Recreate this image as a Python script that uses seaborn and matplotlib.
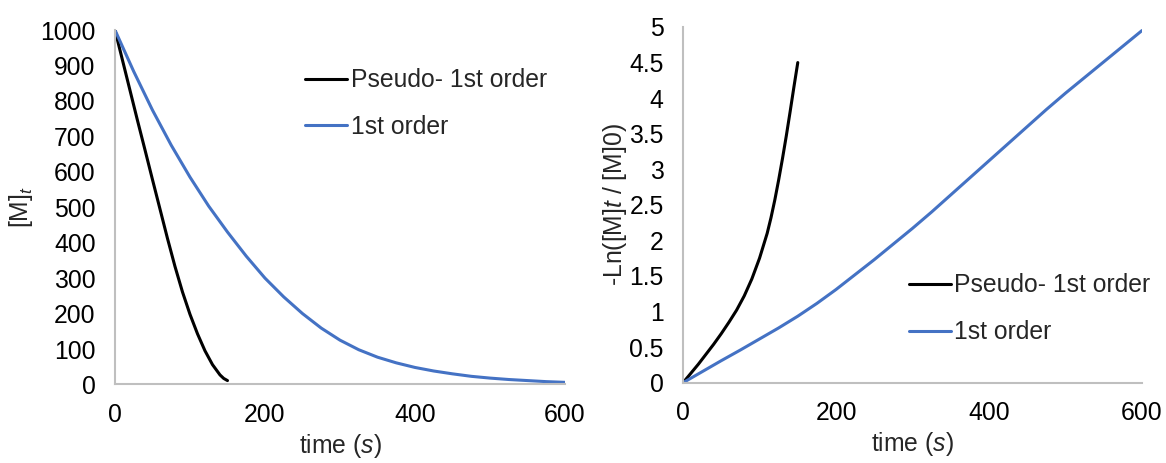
import numpy as np
import pandas as pd
import matplotlib
matplotlib.use("Agg")
import matplotlib.pyplot as plt
import seaborn as sns

# Concentration decay, [M]t
pseudo_t = [0, 10, 20, 30, 40, 50, 60, 70, 80, 90, 100, 110, 120, 130, 140, 145, 150]
pseudo_M = [1000, 915, 830, 745, 662, 578, 495, 412, 333, 261, 198, 143, 95, 56, 27, 17, 11]
first_t = [0, 25, 50, 75, 100, 125, 150, 175, 200, 225, 250, 275, 300, 325, 350,
           375, 400, 425, 450, 475, 500, 525, 550, 575, 600]
first_M = [1000, 883, 774, 675, 585, 503, 430, 362, 300, 247, 200, 159, 125, 98, 77,
           61, 48, 38, 30, 23, 18, 14, 11, 8, 6]

# Linearised form, -Ln([M]t / [M]0)
pseudo_t2 = [0, 10, 20, 30, 40, 50, 60, 70, 80, 90, 100, 110, 115, 120, 125, 130,
             135, 140, 145, 150]
pseudo_ln = [0, 0.13, 0.26, 0.40, 0.54, 0.69, 0.85, 1.02, 1.22, 1.46, 1.75, 2.10,
             2.32, 2.57, 2.85, 3.15, 3.47, 3.81, 4.16, 4.5]
first_t2 = [0, 25, 50, 75, 100, 125, 150, 175, 200, 225, 250, 275, 300, 325, 350,
            375, 400, 425, 450, 475, 500, 525, 550, 575, 600]
first_ln = [0, 0.155, 0.31, 0.46, 0.615, 0.77, 0.935, 1.115, 1.31, 1.52, 1.73, 1.95,
            2.17, 2.40, 2.64, 2.88, 3.12, 3.36, 3.60, 3.84, 4.07, 4.29, 4.51, 4.73, 4.95]

series_names = ["Pseudo- 1st order", "1st order"]
x_ticks = [0, 200, 400, 600]
y_ticks_left = list(range(0, 1001, 100))
y_ticks_right = [0, 0.5, 1, 1.5, 2, 2.5, 3, 3.5, 4, 4.5, 5]

sns.set_style("white")
plt.rcParams["font.family"] = ["Liberation Sans", "DejaVu Sans"]
plt.rcParams["mathtext.fontset"] = "custom"
plt.rcParams["mathtext.rm"] = "Liberation Sans"
plt.rcParams["mathtext.it"] = "Liberation Sans:italic"

palette = {series_names[0]: "#000000", series_names[1]: "#4472C4"}

df_left = pd.concat([
    pd.DataFrame({"time": pseudo_t, "value": pseudo_M, "series": series_names[0]}),
    pd.DataFrame({"time": first_t, "value": first_M, "series": series_names[1]}),
])
df_right = pd.concat([
    pd.DataFrame({"time": pseudo_t2, "value": pseudo_ln, "series": series_names[0]}),
    pd.DataFrame({"time": first_t2, "value": first_ln, "series": series_names[1]}),
])

fig = plt.figure(figsize=(11.66, 4.63), dpi=100)
ax1 = fig.add_axes([0.0986, 0.1696, 0.3860, 0.7656])
ax2 = fig.add_axes([0.5858, 0.1734, 0.3936, 0.7683])

fs = 17.8
spine_col = "#BFBFBF"

for ax, df in ((ax1, df_left), (ax2, df_right)):
    sns.lineplot(data=df, x="time", y="value", hue="series", palette=palette,
                 hue_order=series_names, linewidth=2.2, ax=ax, estimator=None,
                 sort=False, solid_joinstyle="round", solid_capstyle="round")
    ax.set_xlim(0, 600)
    ax.set_xticks(x_ticks)
    for side in ("top", "right"):
        ax.spines[side].set_visible(False)
    for side in ("left", "bottom"):
        ax.spines[side].set_color(spine_col)
        ax.spines[side].set_linewidth(1.5)
    ax.tick_params(axis="both", length=0, labelsize=fs, colors="#000000")
    ax.tick_params(axis="y", pad=14)
    ax.tick_params(axis="x", pad=13)
    ax.set_xlabel("time ($\\mathit{s}$)", fontsize=fs, labelpad=4)

ax1.set_ylim(0, 1000)
ax1.set_yticks(y_ticks_left)
ax1.set_ylabel("[M]$_{\\mathit{t}}$", fontsize=fs, labelpad=4)

ax2.set_ylim(0, 5)
ax2.set_yticks(y_ticks_right)
ax2.set_yticklabels([f"{v:g}" for v in y_ticks_right])
ax2.set_ylabel("-Ln([M]$\\mathit{t}$ / [M]0)", fontsize=fs, labelpad=0)

legend_kw = dict(loc="upper left", frameon=False, fontsize=fs, handlelength=1.7,
                 handletextpad=0.15, labelspacing=0.92, borderaxespad=0)
h, l = ax1.get_legend_handles_labels()
ax1.legend(h, l, bbox_to_anchor=(0.40, 0.92), **legend_kw)
h, l = ax2.get_legend_handles_labels()
ax2.legend(h, l, bbox_to_anchor=(0.47, 0.335), **legend_kw)

fig.savefig("out.png", dpi=100)
